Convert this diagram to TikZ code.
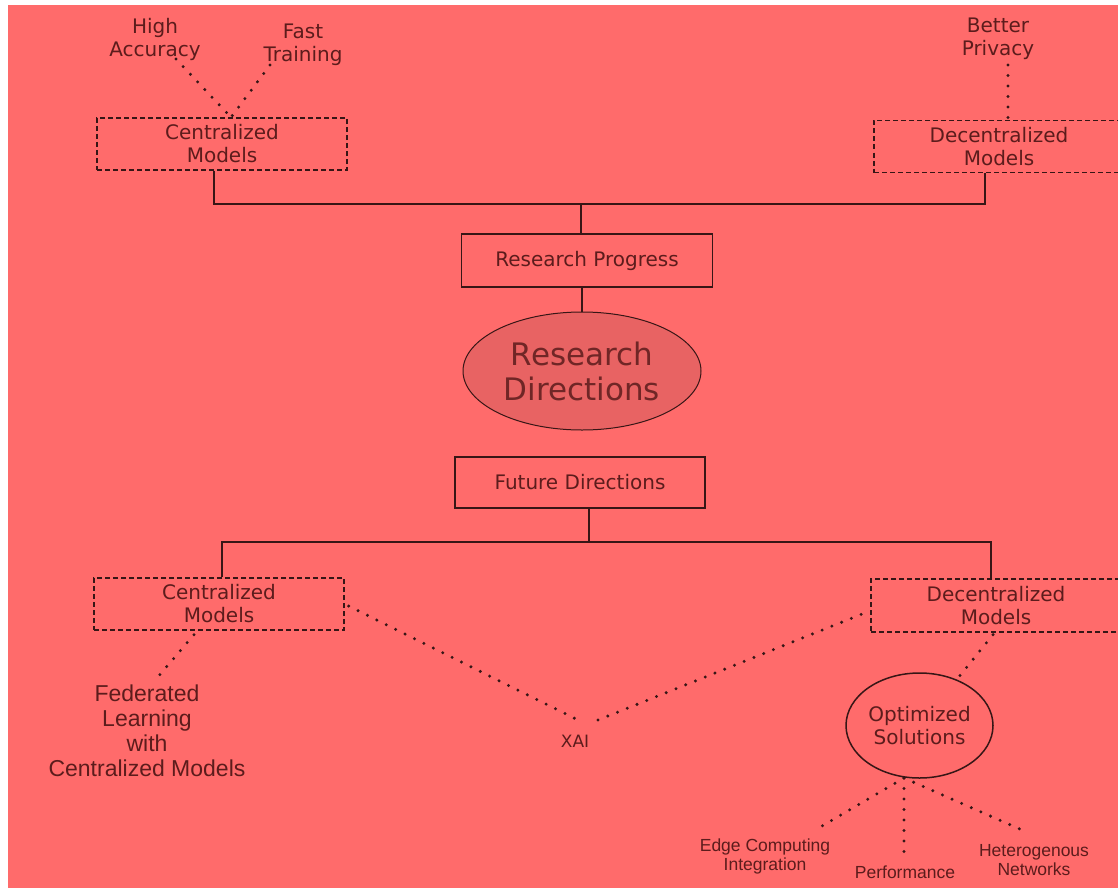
\documentclass[tikz,border=0pt]{standalone}
\usepackage{fontspec}
\setmainfont{DejaVu Sans}
\newfontfamily\arialf{Liberation Sans}
\usetikzlibrary{calc,shapes.geometric}
\definecolor{bgred}{RGB}{255,107,107}
\definecolor{linec}{RGB}{55,22,22}
\definecolor{textc}{RGB}{92,28,28}
\definecolor{rdfill}{RGB}{232,99,99}
\definecolor{rdtext}{RGB}{112,38,38}
\begin{document}
\begin{tikzpicture}[x=1pt,y=-1pt,
  lbl/.style={inner sep=0pt,align=center,text=textc,font=\fontsize{20}{23}\selectfont},
  albl/.style={inner sep=0pt,align=center,text=textc,font=\arialf\fontsize{17.5}{19}\selectfont},
  dbox/.style={draw=linec,line width=1.3pt,dash pattern=on 5pt off 3pt,minimum width=250pt,minimum height=52pt,inner sep=0pt,align=center,text=textc,font=\fontsize{20}{23}\selectfont},
  sbox/.style={draw=linec,line width=1.5pt,minimum width=250pt,minimum height=52pt,inner sep=0pt,align=center,text=textc,font=\fontsize{20}{23}\selectfont},
  conn/.style={draw=linec,line width=1.5pt},
  dotline/.style={draw=linec,line width=3.3pt,line cap=round,dash pattern=on 0pt off 10.5pt}
]
\useasboundingbox (0,0) rectangle (1118,888);
\fill[white] (0,0) rectangle (1118,888);
\fill[bgred] (8,5) rectangle (1118,888);

% top row
\node[lbl] (ha) at (155,39) {High\\Accuracy};
\node[lbl] (ft) at (303,45) {Fast\\Training};
\node[lbl] (bp) at (998,39) {Better\\Privacy};
\node[dbox] (ctop) at (222,144) {Centralized\\Models};
\node[dbox] (dtop) at (999,146.5) {Decentralized\\Models};

% centre
\node[sbox,minimum height=53pt,minimum width=251pt] (rp) at (587,260.5) {Research Progress};
\node[ellipse,draw=linec,line width=1pt,fill=rdfill,minimum width=238pt,minimum height=118pt,inner sep=0pt,align=center,text=rdtext,font=\fontsize{31}{35}\selectfont] (rd) at (582,371) {Research\\Directions};
\node[sbox,minimum height=51pt] (fd) at (580,482.5) {Future Directions};

% bottom row
\node[dbox] (cbot) at (219,604) {Centralized\\Models};
\node[dbox,minimum height=53pt] (dbot) at (996,605.5) {Decentralized\\Models};
\node[inner sep=0pt,align=center,text=textc,font=\arialf\fontsize{23}{25}\selectfont] (fed) at (147,731) {Federated\\Learning\\with\\Centralized Models};
\node[inner sep=0pt,text=textc,font=\fontsize{17}{18}\selectfont] (xai) at (575,741) {XAI};
\node[ellipse,draw=linec,line width=1.5pt,minimum width=147pt,minimum height=105pt,inner sep=0pt,align=center,text=textc,font=\fontsize{20}{23}\selectfont] (os) at (919.5,725.5) {Optimized\\Solutions};
\node[albl] (edge) at (765,856) {Edge Computing\\Integration};
\node[albl] (perf) at (905,872) {Performance};
\node[albl] (het) at (1034,860) {Heterogenous\\Networks};

% coordinates
\coordinate (j1) at (581,204);
\coordinate (j2) at (589,542);
\coordinate (haend) at (176,59);
\coordinate (ftend) at (270,65);
\coordinate (bpend) at (1008,65);
\coordinate (fedend) at (157,678);
\coordinate (xaiL) at (580,721);
\coordinate (xaiR) at (598,720);
\coordinate (osb) at (904,778);
\coordinate (edgeend) at (822,826);
\coordinate (perfend) at (904,855);
\coordinate (hetend) at (1022,830);

% solid tree connectors
\draw[conn] ([xshift=-8pt]ctop.south) |- (j1) -| ([xshift=-14pt]dtop.south);
\draw[conn] (j1) -- (j1 |- rp.north);
\draw[conn] (rd.north |- rp.south) -- (rd.north);
\draw[conn] ($(rd.south)+(5,0)$) -- ($(rd.south)+(5,0)$ |- fd.north);
\draw[conn] (j2 |- fd.south) -- (j2);
\draw[conn] (j2) -| ($(cbot.north)+(3,0)$);
\draw[conn] (j2) -| ($(dbot.north)+(-5,0)$);

% dotted connectors
\draw[dotline] (haend) -- ($(ctop.north)+(9,0)$);
\draw[dotline] (ftend) -- ($(ctop.north)+(9,0)$);
\draw[dotline] (bpend) -- ($(dtop.north)+(9,0)$);
\draw[dotline] ($(cbot.south)+(-25,4)$) -- (fedend);
\draw[dotline] ($(cbot.east)+(4,2)$) -- (xaiL);
\draw[dotline] (xaiR) -- ($(dbot.west)+(-2,6)$);
\draw[dotline] ($(dbot.south)+(-3,2)$) -- (os);
\draw[dotline] (osb) -- (edgeend);
\draw[dotline] (osb) -- (perfend);
\draw[dotline] (osb) -- (hetend);
\end{tikzpicture}
\end{document}
